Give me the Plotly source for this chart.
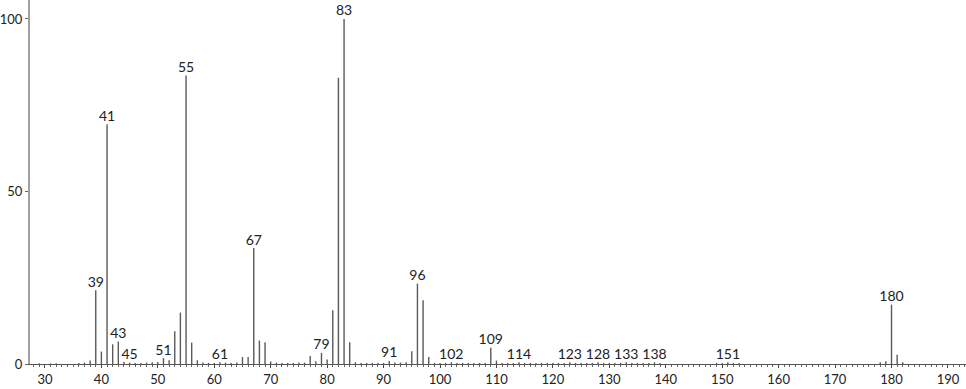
import plotly.graph_objects as go

# m/z values and relative intensities
mz = [27, 29, 31, 32, 36, 37, 38, 39, 40, 41, 42, 43, 44, 45, 46, 47, 48, 49, 50,
      51, 52, 53, 54, 55, 56, 57, 58, 59, 60, 61, 62, 63, 64, 65, 66, 67, 68, 69,
      70, 71, 72, 73, 74, 75, 76, 77, 78, 79, 80, 81, 82, 83, 84, 85, 86, 87, 88,
      89, 90, 91, 92, 93, 94, 95, 96, 97, 98, 99, 100, 101, 102, 103, 104, 105, 106,
      107, 108, 109, 110, 111, 112, 113, 114, 115, 116, 117, 118, 119, 120, 121, 122,
      123, 124, 125, 126, 127, 128, 129, 130, 131, 132, 133, 134, 135, 136, 137, 138,
      139, 149, 150, 151, 152, 153, 178, 179, 180, 181, 182]
intensity = [0.3, 0.2, 0.2, 0.2, 0.3, 0.4, 1.0, 21.4, 3.6, 69.5, 5.7, 6.5, 0.6, 0.4,
             0.3, 0.3, 0.4, 0.5, 0.6, 1.7, 1.1, 9.5, 14.9, 83.6, 6.2, 1.1, 0.4, 0.3,
             0.3, 0.5, 0.4, 0.3, 0.4, 2.0, 2.0, 33.6, 6.8, 6.3, 0.7, 0.4, 0.3, 0.3,
             0.3, 0.4, 0.4, 2.3, 0.8, 3.2, 1.3, 15.6, 83.0, 100.0, 6.3, 0.5, 0.3, 0.3,
             0.3, 0.3, 0.3, 0.9, 0.4, 0.4, 0.5, 3.7, 23.3, 18.5, 2.0, 0.3, 0.3, 0.3,
             0.5, 0.3, 0.3, 0.3, 0.3, 0.3, 0.3, 4.7, 1.0, 0.3, 0.3, 0.3, 0.5, 0.3,
             0.3, 0.3, 0.3, 0.3, 0.3, 0.3, 0.3, 0.5, 0.3, 0.3, 0.3, 0.3, 0.5, 0.3,
             0.3, 0.3, 0.3, 0.5, 0.3, 0.3, 0.3, 0.3, 0.5, 0.3, 0.3, 0.3, 0.5, 0.3,
             0.3, 0.5, 0.8, 17.2, 2.7, 0.5]

# peaks that carry a label
labeled_mz = [39, 41, 43, 45, 51, 55, 61, 67, 79, 83, 91, 96, 102, 109, 114,
              123, 128, 133, 138, 151, 180]

x_ticks = [30, 40, 50, 60, 70, 80, 90, 100, 110, 120, 130, 140, 150, 160, 170, 180, 190]
y_ticks = [0, 50, 100]

FONT = "Lato, 'Open Sans', sans-serif"

xs, ys = [], []
for m, v in zip(mz, intensity):
    xs += [m, m, None]
    ys += [0, v, None]

lookup = dict(zip(mz, intensity))
lab_y = [lookup[m] for m in labeled_mz]

fig = go.Figure()
fig.add_trace(go.Scatter(x=xs, y=ys, mode="lines",
                         line=dict(color="#5a5a5a", width=1.4),
                         hoverinfo="skip", showlegend=False))
fig.add_trace(go.Scatter(x=labeled_mz, y=lab_y, mode="text",
                         text=[str(m) for m in labeled_mz],
                         textposition="top center",
                         textfont=dict(family=FONT, size=14, color="#222"),
                         showlegend=False))

fig.update_layout(
    width=966, height=389,
    margin=dict(l=30, r=0, t=0, b=25),
    paper_bgcolor="white", plot_bgcolor="white",
    font=dict(family=FONT, size=14, color="#222"),
)
fig.update_xaxes(range=[27.35, 193.2], tickvals=x_ticks, automargin=False,
                 ticks="outside", ticklen=3, tickcolor="#444", tickwidth=1,
                 minor=dict(dtick=1, tick0=0, ticks="outside", ticklen=2,
                            tickcolor="#666", tickwidth=1),
                 showline=True, linecolor="#555", linewidth=1,
                 showgrid=False, zeroline=False,
                 tickfont=dict(family=FONT, size=13, color="#222"))
fig.update_yaxes(range=[0, 105.5], tickvals=y_ticks, automargin=False,
                 ticks="outside", ticklen=3, tickcolor="#666",
                 showline=True, linecolor="#a0a0a0", linewidth=2,
                 showgrid=False, zeroline=False,
                 tickfont=dict(family=FONT, size=13, color="#222"))

fig.write_html("out.html")
